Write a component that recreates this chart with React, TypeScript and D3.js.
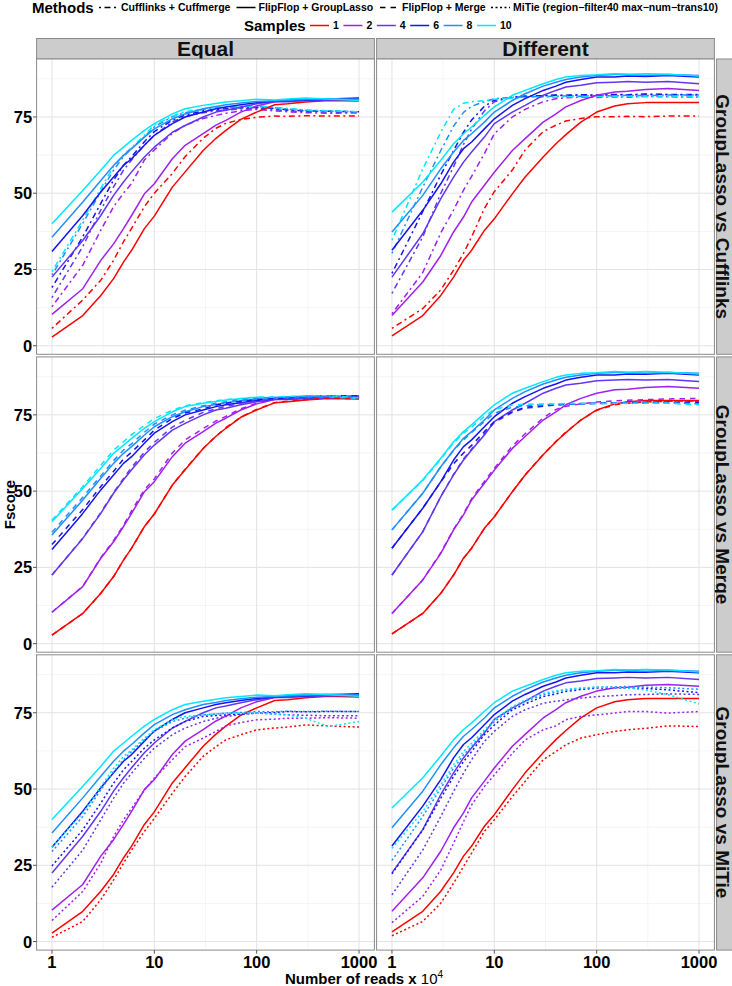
import React from "react";
import * as d3 from "d3";

// reads (x 10^4) at which Fscore was measured
const READS = [1, 2, 3, 4, 5, 6, 8, 10, 15, 20, 30, 40, 50, 70, 100, 150, 200, 300, 500, 1000];
const SAMPLES = ["1", "2", "4", "6", "8", "10"];
const SAMPLE_COLORS = ["#ff0000", "#a020f0", "#6236f2", "#1414f0", "#1e8fff", "#00e8ff"];
const METHODS = [
  "Cufflinks + Cuffmerge",
  "FlipFlop + GroupLasso",
  "FlipFlop + Merge",
  "MiTie (region\u2212filter40 max\u2212num\u2212trans10)",
];
const METHOD_DASH = ["2 3.5 6 3.5", "", "5.5 5", "2 2.5"];
const COLUMNS = ["Equal", "Different"];
const ROWS = ["GroupLasso vs Cufflinks", "GroupLasso vs Merge", "GroupLasso vs MiTie"];
const X_TICKS = [1, 10, 100, 1000];
const Y_TICKS = [0, 25, 50, 75];

// FlipFlop + GroupLasso (same in every row)
const GL_EQUAL = [
  [2.8, 9.9, 16.5, 22.0, 27.4, 31.3, 38.4, 42.5, 52.0, 57.0, 64.0, 68.0, 70.6, 74.2, 76.6, 79.0, 79.3, 79.9, 80.4, 80.2],
  [10.3, 18.7, 28.0, 33.4, 38.4, 42.7, 49.8, 53.1, 61.3, 65.7, 69.5, 72.3, 73.9, 76.6, 78.6, 80.0, 80.4, 81.0, 81.0, 80.7],
  [22.5, 34.5, 42.7, 49.3, 53.7, 57.0, 61.9, 65.1, 70.0, 72.2, 75.0, 76.6, 77.2, 78.3, 79.3, 80.1, 80.0, 80.3, 80.5, 80.8],
  [30.9, 42.7, 50.4, 55.3, 59.1, 61.3, 65.7, 69.0, 72.8, 75.0, 76.6, 77.7, 78.3, 79.0, 79.7, 80.2, 80.4, 80.6, 80.9, 81.2],
  [35.6, 47.1, 54.2, 59.1, 62.4, 64.6, 68.4, 71.1, 74.4, 76.0, 77.7, 78.4, 79.0, 79.6, 80.1, 80.3, 80.5, 80.7, 81.0, 80.8],
  [40.0, 50.9, 57.5, 62.4, 65.1, 67.3, 70.6, 72.8, 76.0, 77.7, 78.8, 79.4, 79.9, 80.3, 80.8, 80.6, 80.9, 81.2, 80.9, 80.4],
];
const GL_DIFF = [
  [3.2, 9.9, 16.5, 22.5, 28.0, 31.3, 37.8, 41.6, 49.8, 55.3, 61.9, 66.2, 69.2, 73.3, 76.6, 78.6, 79.3, 79.7, 79.7, 79.7],
  [9.9, 20.9, 29.6, 37.3, 42.2, 47.1, 52.6, 56.9, 64.0, 67.9, 73.3, 76.0, 78.3, 80.4, 82.1, 83.2, 83.4, 84.0, 84.3, 83.7],
  [22.5, 36.7, 48.2, 55.3, 60.2, 63.5, 68.4, 72.8, 76.6, 78.8, 82.1, 83.7, 84.8, 85.4, 86.2, 86.4, 86.6, 86.4, 86.6, 85.9],
  [31.3, 44.4, 53.1, 60.2, 64.6, 66.8, 71.1, 74.4, 78.8, 81.0, 83.7, 85.1, 86.4, 87.3, 88.1, 88.1, 88.4, 88.3, 88.6, 88.1],
  [37.3, 49.3, 58.0, 63.5, 67.3, 69.5, 73.3, 76.6, 80.4, 82.6, 85.1, 86.4, 87.3, 88.1, 88.6, 88.9, 88.9, 88.6, 88.9, 88.6],
  [43.8, 53.7, 60.8, 66.2, 69.5, 71.7, 75.5, 78.3, 82.1, 83.7, 85.9, 87.3, 88.1, 88.6, 88.8, 89.2, 89.0, 89.2, 89.0, 88.4],
];

// Cufflinks + Cuffmerge
const CUFF_EQUAL = [
  [5.7, 15.0, 21.5, 28.0, 34.1, 38.5, 45.6, 50.0, 56.5, 62.0, 68.0, 71.3, 72.9, 74.2, 74.9, 75.3, 75.2, 75.4, 75.3, 75.3],
  [12.8, 26.4, 37.9, 45.6, 50.0, 53.2, 60.9, 64.2, 69.6, 72.3, 74.5, 75.5, 76.2, 77.0, 77.5, 77.0, 76.7, 76.4, 76.2, 76.4],
  [15.8, 32.5, 44.5, 52.1, 57.6, 60.9, 65.8, 69.0, 73.4, 75.1, 76.4, 77.0, 77.3, 77.6, 77.8, 77.4, 77.0, 76.8, 76.6, 76.4],
  [19.1, 35.7, 46.7, 54.3, 59.2, 62.0, 66.9, 70.2, 74.0, 75.6, 77.0, 77.4, 77.7, 78.0, 78.1, 77.8, 77.3, 77.0, 76.9, 76.7],
  [23.2, 40.1, 50.5, 57.6, 62.0, 64.7, 68.5, 71.8, 75.1, 76.4, 77.5, 77.9, 78.1, 78.3, 78.4, 78.0, 77.6, 77.2, 77.0, 76.7],
  [24.3, 41.2, 51.6, 58.7, 62.5, 65.0, 69.0, 72.3, 75.3, 76.7, 77.7, 78.1, 78.4, 78.5, 78.6, 78.2, 77.8, 77.3, 77.0, 76.7],
];
const CUFF_DIFF = [
  [5.7, 12.2, 18.3, 24.8, 30.3, 35.7, 45.0, 50.5, 57.6, 64.2, 70.2, 72.3, 73.7, 74.5, 75.1, 75.1, 75.2, 75.1, 75.3, 75.3],
  [10.5, 24.0, 37.0, 44.5, 51.0, 55.5, 63.0, 69.5, 75.0, 77.5, 80.0, 81.0, 81.3, 81.5, 81.4, 81.6, 81.5, 81.8, 81.6, 81.5],
  [17.2, 35.7, 50.0, 58.7, 66.0, 71.0, 77.0, 80.0, 81.5, 81.8, 82.0, 82.1, 82.0, 82.2, 82.1, 82.3, 82.2, 82.4, 82.3, 82.2],
  [23.7, 44.0, 56.0, 64.0, 70.0, 74.0, 78.5, 80.5, 81.5, 81.8, 82.0, 82.2, 82.1, 82.3, 82.2, 82.4, 82.3, 82.5, 82.4, 82.4],
  [30.3, 52.0, 64.0, 72.0, 76.5, 78.5, 80.0, 81.0, 81.4, 81.6, 81.7, 81.8, 81.9, 81.8, 82.0, 81.9, 82.1, 82.0, 82.2, 82.2],
  [34.6, 58.0, 70.0, 77.5, 79.5, 80.0, 80.3, 80.8, 81.2, 81.4, 81.5, 81.5, 81.6, 81.5, 81.7, 81.6, 81.7, 81.6, 81.7, 81.6],
];

// FlipFlop + Merge
const MERGE_EQUAL = [
  [2.8, 9.9, 16.5, 22.0, 27.4, 31.3, 38.4, 42.5, 52.0, 57.2, 64.0, 68.0, 70.8, 74.3, 76.8, 79.0, 79.5, 80.0, 80.5, 80.3],
  [10.3, 18.8, 28.2, 33.8, 38.8, 43.5, 50.5, 54.0, 62.5, 66.8, 70.5, 73.0, 74.5, 77.0, 78.8, 80.1, 80.5, 81.0, 81.2, 80.8],
  [22.5, 34.6, 43.0, 49.5, 54.2, 57.8, 62.8, 66.0, 71.0, 73.2, 75.8, 77.0, 77.8, 78.8, 79.5, 80.2, 80.3, 80.6, 81.0, 80.9],
  [32.5, 44.0, 51.5, 56.5, 60.5, 62.8, 66.8, 70.0, 73.8, 75.6, 77.0, 78.2, 78.8, 79.4, 80.0, 80.4, 80.6, 81.0, 81.3, 81.2],
  [36.5, 48.0, 55.0, 60.0, 63.5, 65.5, 69.3, 72.0, 75.0, 76.5, 78.0, 78.8, 79.3, 80.0, 80.4, 80.7, 80.8, 81.0, 81.2, 80.6],
  [40.5, 51.5, 58.5, 63.4, 66.2, 68.5, 71.5, 73.8, 76.5, 78.0, 79.0, 79.6, 80.0, 80.4, 80.8, 80.9, 81.0, 81.2, 81.3, 80.6],
];
const MERGE_DIFF = [
  [3.2, 9.9, 16.5, 22.5, 28.0, 31.3, 37.8, 41.6, 49.8, 55.3, 62.0, 66.3, 69.3, 73.3, 76.5, 78.3, 78.8, 79.2, 79.5, 79.6],
  [9.9, 20.9, 29.8, 37.5, 42.5, 47.5, 53.2, 57.5, 64.8, 68.8, 74.0, 76.8, 77.8, 78.6, 79.2, 79.6, 79.8, 80.0, 80.2, 80.4],
  [22.5, 36.7, 48.2, 55.5, 60.5, 63.8, 68.8, 72.5, 75.8, 77.2, 77.8, 78.2, 78.4, 78.6, 78.8, 79.0, 79.0, 79.2, 79.2, 79.3],
  [31.3, 44.4, 53.0, 59.0, 62.5, 65.0, 69.5, 72.8, 76.0, 77.5, 78.0, 78.3, 78.5, 78.7, 78.8, 78.9, 79.0, 79.0, 79.1, 79.0],
  [37.3, 49.3, 58.0, 63.3, 66.8, 69.2, 72.8, 75.5, 77.5, 78.0, 78.3, 78.5, 78.6, 78.6, 78.7, 78.8, 78.8, 78.9, 79.0, 78.6],
  [43.8, 53.5, 60.5, 65.8, 69.0, 71.0, 74.5, 76.8, 78.2, 78.5, 78.6, 78.6, 78.7, 78.7, 78.7, 78.8, 78.8, 78.8, 78.8, 78.3],
];

// MiTie
const MITIE_EQUAL = [
  [1.4, 6.6, 13.7, 20.2, 25.7, 30.0, 36.1, 40.4, 48.6, 54.1, 60.7, 63.9, 66.1, 67.8, 69.4, 70.0, 70.3, 71.0, 70.7, 70.3],
  [6.9, 16.4, 25.7, 34.4, 39.9, 43.7, 49.7, 53.6, 59.6, 63.9, 66.7, 68.9, 70.7, 71.8, 72.7, 72.9, 73.2, 73.2, 73.4, 73.2],
  [17.8, 30.0, 39.9, 47.0, 51.9, 55.2, 60.1, 63.4, 67.8, 70.0, 72.1, 73.2, 73.8, 74.4, 74.9, 74.6, 74.3, 74.2, 74.0, 74.0],
  [24.8, 36.6, 45.4, 51.9, 56.3, 59.0, 63.4, 66.1, 70.0, 72.1, 73.8, 74.1, 74.3, 74.6, 74.9, 75.1, 75.4, 75.3, 75.4, 75.4],
  [29.5, 41.0, 49.7, 55.7, 59.6, 62.3, 66.1, 68.9, 72.1, 73.2, 74.3, 74.6, 74.9, 75.1, 75.4, 75.3, 75.5, 75.4, 75.5, 75.4],
  [31.1, 42.1, 50.8, 56.8, 60.7, 62.8, 66.7, 69.4, 72.7, 73.8, 74.3, 74.6, 74.9, 74.9, 74.9, 74.6, 74.3, 73.2, 70.5, 72.1],
];
const MITIE_DIFF = [
  [1.9, 6.6, 12.6, 19.1, 24.6, 29.0, 36.1, 39.9, 47.5, 52.5, 59.6, 62.3, 64.5, 66.7, 67.8, 68.9, 69.4, 69.9, 70.7, 70.5],
  [6.2, 14.8, 23.5, 32.2, 39.3, 44.8, 50.8, 54.6, 61.7, 66.1, 69.4, 70.7, 72.7, 73.8, 74.3, 74.9, 75.4, 75.4, 74.9, 75.4],
  [15.3, 30.0, 41.0, 49.2, 55.2, 59.6, 65.6, 68.9, 73.8, 76.0, 78.1, 78.8, 79.2, 79.8, 80.3, 80.6, 80.9, 81.0, 81.2, 81.0],
  [22.2, 36.6, 47.0, 54.1, 59.0, 62.3, 67.8, 71.0, 76.0, 77.9, 80.3, 81.2, 82.0, 82.6, 83.1, 83.2, 83.1, 83.0, 82.5, 81.6],
  [26.6, 41.0, 50.3, 56.8, 61.2, 63.9, 68.9, 72.1, 76.5, 78.7, 80.9, 81.8, 82.5, 83.0, 83.4, 83.5, 83.6, 83.4, 83.2, 82.7],
  [30.6, 42.6, 51.4, 57.9, 62.3, 65.0, 69.4, 72.7, 77.0, 79.2, 81.4, 82.2, 82.7, 83.1, 83.4, 83.3, 83.1, 82.5, 80.9, 77.9],
];

const W = 732;
const H = 986;
const COL_X = [36.6, 376.6];
const ROW_Y = [59, 356.9, 654.8];
const PW = 337.8;
const PH = 295.3;
const FONT = "'Liberation Sans', Arial, Helvetica, sans-serif";

const xScale = d3.scaleLog().domain([Math.pow(10, -0.15), Math.pow(10, 3.15)]).range([0, PW]);
const yScale = d3.scaleLinear().domain([-2.8, 94.0]).range([PH, 0]);
const X_MINOR = [Math.pow(10, 0.5), Math.pow(10, 1.5), Math.pow(10, 2.5)];
const Y_MINOR = [12.5, 37.5, 62.5, 87.5];

const line = d3
  .line<number>()
  .x((_, i) => xScale(READS[i]))
  .y((d) => yScale(d));

// per row: which method is compared and its data per column
const ROW_CMP = [
  { method: 0, data: [CUFF_EQUAL, CUFF_DIFF], first: true },
  { method: 2, data: [MERGE_EQUAL, MERGE_DIFF], first: false },
  { method: 3, data: [MITIE_EQUAL, MITIE_DIFF], first: false },
];
const GL = [GL_EQUAL, GL_DIFF];

function Series({ data, dash }: { data: number[][]; dash: string }) {
  return (
    <g fill="none" strokeWidth={1.5} strokeLinejoin="round">
      {data.map((s, i) => (
        <path key={i} d={line(s) || ""} stroke={SAMPLE_COLORS[i]} strokeDasharray={dash || undefined} />
      ))}
    </g>
  );
}

function Panel({ r, c }: { r: number; c: number }) {
  const cmp = ROW_CMP[r];
  const solid = <Series data={GL[c]} dash={METHOD_DASH[1]} />;
  const other = <Series data={cmp.data[c]} dash={METHOD_DASH[cmp.method]} />;
  return (
    <g transform={`translate(${COL_X[c]},${ROW_Y[r]})`}>
      <rect width={PW} height={PH} fill="#fff" />
      {X_MINOR.map((t) => (
        <line key={"xm" + t} x1={xScale(t)} x2={xScale(t)} y1={0} y2={PH} stroke="#f2f2f2" strokeWidth={0.8} />
      ))}
      {Y_MINOR.map((t) => (
        <line key={"ym" + t} x1={0} x2={PW} y1={yScale(t)} y2={yScale(t)} stroke="#f2f2f2" strokeWidth={0.8} />
      ))}
      {X_TICKS.map((t) => (
        <line key={"x" + t} x1={xScale(t)} x2={xScale(t)} y1={0} y2={PH} stroke="#e3e3e3" strokeWidth={1} />
      ))}
      {Y_TICKS.map((t) => (
        <line key={"y" + t} x1={0} x2={PW} y1={yScale(t)} y2={yScale(t)} stroke="#e3e3e3" strokeWidth={1} />
      ))}
      {cmp.first ? (
        <>
          {other}
          {solid}
        </>
      ) : (
        <>
          {solid}
          {other}
        </>
      )}
      <rect width={PW} height={PH} fill="none" stroke="#8a8a8a" strokeWidth={1} />
    </g>
  );
}

export default function App() {
  // legend key positions (key start, label start)
  const methodKeys = [
    { x: 99, tx: 121 },
    { x: 236.5, tx: 258.5 },
    { x: 380, tx: 402 },
    { x: 491, tx: 513 },
  ];
  let sx = 310;
  const sampleKeys = SAMPLES.map((s) => {
    const k = { x: sx, tx: sx + 23 };
    sx += 19 + 4 + 5.9 * s.length + 4.5;
    return k;
  });
  return (
    <svg
      width={W}
      height={H}
      style={{ position: "absolute", left: 0, top: 0, background: "#fff" }}
      fontFamily={FONT}
    >
      <rect width={W} height={H} fill="#fff" />
      {/* legends */}
      <text x={32} y={12.5} fontSize={15} fontWeight="bold">
        Methods
      </text>
      {METHODS.map((m, i) => (
        <g key={m}>
          <line
            x1={methodKeys[i].x}
            x2={methodKeys[i].x + 19}
            y1={7.5}
            y2={7.5}
            stroke="#000"
            strokeWidth={1.5}
            strokeDasharray={METHOD_DASH[i] || undefined}
          />
          <text x={methodKeys[i].tx} y={11.3} fontSize={10.5} fontWeight="bold">
            {m}
          </text>
        </g>
      ))}
      <text x={244} y={30.5} fontSize={15} fontWeight="bold">
        Samples
      </text>
      {SAMPLES.map((s, i) => (
        <g key={s}>
          <line
            x1={sampleKeys[i].x}
            x2={sampleKeys[i].x + 19}
            y1={25.5}
            y2={25.5}
            stroke={SAMPLE_COLORS[i]}
            strokeWidth={1.5}
          />
          <text x={sampleKeys[i].tx} y={29.3} fontSize={10.5} fontWeight="bold">
            {s}
          </text>
        </g>
      ))}

      {/* top strips */}
      {COLUMNS.map((c, i) => (
        <g key={c}>
          <rect x={COL_X[i]} y={38.5} width={PW} height={20.5} fill="#cccccc" stroke="#8a8a8a" strokeWidth={1} />
          <text
            x={COL_X[i] + PW / 2}
            y={48.7}
            dy="0.36em"
            textAnchor="middle"
            fontSize={21}
            fontWeight="bold"
            fill="#111"
          >
            {c}
          </text>
        </g>
      ))}

      {/* right strips */}
      {ROWS.map((r, i) => (
        <g key={r}>
          <rect x={716.6} y={ROW_Y[i]} width={22} height={PH} fill="#cccccc" stroke="#8a8a8a" strokeWidth={1} />
          <text
            transform={`translate(722.8,${ROW_Y[i] + PH / 2}) rotate(90)`}
            dy="0.36em"
            textAnchor="middle"
            fontSize={19}
            fontWeight="bold"
            fill="#111"
          >
            {r}
          </text>
        </g>
      ))}

      {ROWS.map((_, r) => COLUMNS.map((__, c) => <Panel key={r + "-" + c} r={r} c={c} />))}

      {/* y axis */}
      {ROW_Y.map((y0, r) => (
        <g key={"ya" + r} transform={`translate(${COL_X[0]},${y0})`}>
          {Y_TICKS.map((t) => (
            <g key={t} transform={`translate(0,${yScale(t)})`}>
              <line x1={-3.6} x2={0} stroke="#555" strokeWidth={1} />
              <text x={-4.5} dy="0.36em" textAnchor="end" fontSize={16.5} fontWeight="bold">
                {t}
              </text>
            </g>
          ))}
        </g>
      ))}

      {/* x axis */}
      {COL_X.map((x0, c) => (
        <g key={"xa" + c} transform={`translate(${x0},${ROW_Y[2] + PH})`}>
          {X_TICKS.map((t) => (
            <g key={t} transform={`translate(${xScale(t)},0)`}>
              <line y1={0} y2={3.6} stroke="#555" strokeWidth={1} />
              <text y={17.5} textAnchor="middle" fontSize={16.5} fontWeight="bold">
                {t}
              </text>
            </g>
          ))}
        </g>
      ))}

      <text x={364} y={984} textAnchor="middle" fontSize={15} fontWeight="bold">
        Number of reads x <tspan fontWeight="normal">10</tspan>
        <tspan fontWeight="normal" fontSize={10} dy={-6}>
          4
        </tspan>
      </text>
      <text
        transform={`translate(10,${(ROW_Y[0] + ROW_Y[2] + PH) / 2}) rotate(-90)`}
        dy="0.36em"
        textAnchor="middle"
        fontSize={15}
        fontWeight="bold"
      >
        Fscore
      </text>
    </svg>
  );
}
